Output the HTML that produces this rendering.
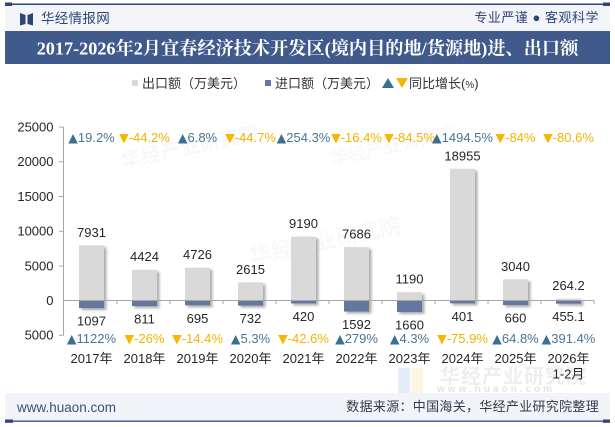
<!DOCTYPE html>
<html>
<head>
<meta charset="utf-8">
<style>
  html,body{margin:0;padding:0;background:#fff;}
  body{width:615px;height:427px;overflow:hidden;position:relative;}
  svg{display:block;}
  .t{font-family:"Liberation Sans","Noto Sans CJK SC",sans-serif;}
  .s{font-family:"Liberation Serif","Noto Serif CJK SC",serif;}
  .g tspan{font-family:"DejaVu Sans",sans-serif;font-size:12.5px;}
</style>
</head>
<body>
<svg width="615" height="427" viewBox="0 0 615 427" xmlns="http://www.w3.org/2000/svg">
  <defs>
    <filter id="sh" x="-30%" y="-30%" width="160%" height="160%">
      <feGaussianBlur stdDeviation="1.3"/>
    </filter>
  </defs>

  <!-- header -->
  <rect x="5" y="5" width="605" height="26" fill="#f3f5f9"/>
  <rect x="5" y="3.5" width="605" height="1.5" fill="#2e4677"/>
  <rect x="5" y="2.5" width="7" height="3.5" fill="#2e4677"/>
  <rect x="603" y="2.5" width="7" height="3.5" fill="#2e4677"/>
  <polygon points="20,13 25.5,15 25.5,24 20,25.5" fill="#2c4677"/>
  <polygon points="27.5,15 33,13 33,25.5 27.5,24" fill="#2c4677"/>
  <text x="41" y="23" class="t" font-size="13.5" fill="#2c4677" letter-spacing="0.3">华经情报网</text>
  <text x="599" y="22" class="t" font-size="13" fill="#2c4677" text-anchor="end" letter-spacing="0.5">专业严谨 ● 客观科学</text>

  <!-- title band -->
  <rect x="5" y="31" width="605" height="33" fill="#415a8c"/>
  <text x="307.5" y="54.3" class="s" font-size="18.2" font-weight="bold" fill="#ffffff" text-anchor="middle">2017-2026年2月宜春经济技术开发区(境内目的地/货源地)进、出口额</text>

  <!-- legend -->
  <rect x="132" y="80" width="6" height="6" fill="#d9d9d9"/>
  <text x="142" y="88" class="t" font-size="13" fill="#333">出口额（万美元）</text>
  <rect x="265" y="80" width="6" height="6" fill="#64789f"/>
  <text x="275" y="88" class="t" font-size="13" fill="#333">进口额（万美元）</text>
  <polygon points="382,88 388,78 394,88" fill="#3d6f91"/>
  <polygon points="396,78 408,78 402,88" fill="#f5b800"/>
  <text x="409" y="88" class="t" font-size="13" fill="#333">同比增长(<tspan font-size="10">%</tspan>)</text>

  <!-- watermarks -->
  <g opacity="0.35">
    <text x="120" y="160" class="t" font-size="20" font-weight="bold" fill="#e8edf3" transform="rotate(-12 160 150)">华经产业研究院</text>
    <text x="250" y="250" class="t" font-size="22" font-weight="bold" fill="#eceff3" transform="rotate(-12 320 250)">华经产业研究院</text>
    <text x="330" y="155" class="t" font-size="18" font-weight="bold" fill="#eceff3" transform="rotate(-12 380 150)">华经产业研究院</text>
  </g>
  <rect x="398" y="368" width="12" height="26" fill="#e6edf8"/>
  <rect x="411" y="368" width="12" height="26" fill="#fcf6e3"/>
  <text x="440" y="383" class="t" font-size="20" font-weight="bold" fill="#eeeeee" letter-spacing="1">华经产业研究院</text>
  <text x="437" y="392" class="t" font-size="10" font-weight="bold" fill="#e4e4e4" letter-spacing="3">www.huaon.com</text>

  <!-- y axis -->
  <g stroke="#a6a6a6" stroke-width="1">
    <line x1="63.5" y1="127" x2="63.5" y2="335.5"/>
    <line x1="59" y1="127" x2="63.5" y2="127"/>
    <line x1="59" y1="161.75" x2="63.5" y2="161.75"/>
    <line x1="59" y1="196.5" x2="63.5" y2="196.5"/>
    <line x1="59" y1="231.25" x2="63.5" y2="231.25"/>
    <line x1="59" y1="266" x2="63.5" y2="266"/>
    <line x1="59" y1="335.25" x2="63.5" y2="335.25"/>
  </g>
  <g class="t" font-size="13" fill="#262626" text-anchor="end">
    <text x="53.5" y="131.5">25000</text>
    <text x="53.5" y="166.2">20000</text>
    <text x="53.5" y="201">15000</text>
    <text x="53.5" y="235.7">10000</text>
    <text x="53.5" y="270.5">5000</text>
    <text x="53.5" y="305">0</text>
    <text x="53.5" y="339.7">5000</text>
  </g>

  <!-- bars -->
  <g id="bars">
    <g fill="#9a9a9a" filter="url(#sh)" opacity="0.8">
      <rect x="81.5" y="247.4" width="25" height="55.1"/>
      <rect x="134.5" y="271.75" width="25" height="30.75"/>
      <rect x="187.5" y="269.65" width="25" height="32.85"/>
      <rect x="240.5" y="284.33" width="25" height="18.17"/>
      <rect x="293.5" y="238.63" width="25" height="63.87"/>
      <rect x="346.5" y="249.08" width="25" height="53.42"/>
      <rect x="399.5" y="294.23" width="25" height="8.27"/>
      <rect x="452.5" y="170.76" width="25" height="131.74"/>
      <rect x="505.5" y="281.37" width="25" height="21.13"/>
      <rect x="558.5" y="300.66" width="25" height="1.84"/>

      <rect x="81.5" y="302.5" width="25" height="7.62"/>
      <rect x="134.5" y="302.5" width="25" height="5.64"/>
      <rect x="187.5" y="302.5" width="25" height="4.83"/>
      <rect x="240.5" y="302.5" width="25" height="5.09"/>
      <rect x="293.5" y="302.5" width="25" height="2.92"/>
      <rect x="346.5" y="302.5" width="25" height="11.06"/>
      <rect x="399.5" y="302.5" width="25" height="11.54"/>
      <rect x="452.5" y="302.5" width="25" height="2.79"/>
      <rect x="505.5" y="302.5" width="25" height="4.59"/>
      <rect x="558.5" y="302.5" width="25" height="3.16"/>
    </g>
    <g fill="#d9d9d9">
      <rect x="79" y="245.4" width="25" height="55.1"/>
      <rect x="132" y="269.75" width="25" height="30.75"/>
      <rect x="185" y="267.65" width="25" height="32.85"/>
      <rect x="238" y="282.33" width="25" height="18.17"/>
      <rect x="291" y="236.63" width="25" height="63.87"/>
      <rect x="344" y="247.08" width="25" height="53.42"/>
      <rect x="397" y="292.23" width="25" height="8.27"/>
      <rect x="450" y="168.76" width="25" height="131.74"/>
      <rect x="503" y="279.37" width="25" height="21.13"/>
      <rect x="556" y="298.66" width="25" height="1.84"/>
    </g>
    <g fill="#64789f">
      <rect x="79" y="300.5" width="25" height="7.62"/>
      <rect x="132" y="300.5" width="25" height="5.64"/>
      <rect x="185" y="300.5" width="25" height="4.83"/>
      <rect x="238" y="300.5" width="25" height="5.09"/>
      <rect x="291" y="300.5" width="25" height="2.92"/>
      <rect x="344" y="300.5" width="25" height="11.06"/>
      <rect x="397" y="300.5" width="25" height="11.54"/>
      <rect x="450" y="300.5" width="25" height="2.79"/>
      <rect x="503" y="300.5" width="25" height="4.59"/>
      <rect x="556" y="300.5" width="25" height="3.16"/>
    </g>
  </g>

  <!-- x axis -->
  <g stroke="#a6a6a6" stroke-width="1">
    <line x1="63.5" y1="300.5" x2="594" y2="300.5"/>
    <line x1="117" y1="300.5" x2="117" y2="304"/>
    <line x1="170" y1="300.5" x2="170" y2="304"/>
    <line x1="223" y1="300.5" x2="223" y2="304"/>
    <line x1="276" y1="300.5" x2="276" y2="304"/>
    <line x1="329" y1="300.5" x2="329" y2="304"/>
    <line x1="382" y1="300.5" x2="382" y2="304"/>
    <line x1="435" y1="300.5" x2="435" y2="304"/>
    <line x1="488" y1="300.5" x2="488" y2="304"/>
    <line x1="541" y1="300.5" x2="541" y2="304"/>
    <line x1="594" y1="300.5" x2="594" y2="304"/>
  </g>

  <!-- export labels -->
  <g class="t" font-size="13" fill="#262626" text-anchor="middle">
    <text x="91.5" y="236.9">7931</text>
    <text x="144.5" y="261.2">4424</text>
    <text x="197.5" y="259.1">4726</text>
    <text x="250.5" y="273.8">2615</text>
    <text x="303.5" y="228.1">9190</text>
    <text x="356.5" y="238.6">7686</text>
    <text x="409.5" y="283.7">1190</text>
    <text x="462.5" y="160.3">18955</text>
    <text x="515.5" y="270.9">3040</text>
    <text x="568.5" y="290.2">264.2</text>
  </g>
  <!-- import labels -->
  <g class="t" font-size="13" fill="#262626" text-anchor="middle">
    <text x="91.5" y="325.6">1097</text>
    <text x="144.5" y="323.6">811</text>
    <text x="197.5" y="322.8">695</text>
    <text x="250.5" y="323.1">732</text>
    <text x="303.5" y="320.9">420</text>
    <text x="356.5" y="329">1592</text>
    <text x="409.5" y="329.5">1660</text>
    <text x="462.5" y="320.8">401</text>
    <text x="515.5" y="322.6">660</text>
    <text x="568.5" y="321.2">455.1</text>
  </g>

  <!-- top growth -->
  <g class="t g" font-size="13" text-anchor="middle">
    <text x="91.5" y="142" fill="#4a7596"><tspan fill="#3d6f91">▲</tspan>19.2%</text>
    <text x="144.5" y="142" fill="#f2b400"><tspan fill="#f5b800">▼</tspan>-44.2%</text>
    <text x="197.5" y="142" fill="#4a7596"><tspan fill="#3d6f91">▲</tspan>6.8%</text>
    <text x="250.5" y="142" fill="#f2b400"><tspan fill="#f5b800">▼</tspan>-44.7%</text>
    <text x="303.5" y="142" fill="#4a7596"><tspan fill="#3d6f91">▲</tspan>254.3%</text>
    <text x="356.5" y="142" fill="#f2b400"><tspan fill="#f5b800">▼</tspan>-16.4%</text>
    <text x="409.5" y="142" fill="#f2b400"><tspan fill="#f5b800">▼</tspan>-84.5%</text>
    <text x="462.5" y="142" fill="#4a7596"><tspan fill="#3d6f91">▲</tspan>1494.5%</text>
    <text x="515.5" y="142" fill="#f2b400"><tspan fill="#f5b800">▼</tspan>-84%</text>
    <text x="568.5" y="142" fill="#f2b400"><tspan fill="#f5b800">▼</tspan>-80.6%</text>
  </g>
  <!-- bottom growth -->
  <g class="t g" font-size="13" text-anchor="middle">
    <text x="91.5" y="343" fill="#4a7596"><tspan fill="#3d6f91">▲</tspan>1122%</text>
    <text x="144.5" y="343" fill="#f2b400"><tspan fill="#f5b800">▼</tspan>-26%</text>
    <text x="197.5" y="343" fill="#f2b400"><tspan fill="#f5b800">▼</tspan>-14.4%</text>
    <text x="250.5" y="343" fill="#4a7596"><tspan fill="#3d6f91">▲</tspan>5.3%</text>
    <text x="303.5" y="343" fill="#f2b400"><tspan fill="#f5b800">▼</tspan>-42.6%</text>
    <text x="356.5" y="343" fill="#4a7596"><tspan fill="#3d6f91">▲</tspan>279%</text>
    <text x="409.5" y="343" fill="#4a7596"><tspan fill="#3d6f91">▲</tspan>4.3%</text>
    <text x="462.5" y="343" fill="#f2b400"><tspan fill="#f5b800">▼</tspan>-75.9%</text>
    <text x="515.5" y="343" fill="#4a7596"><tspan fill="#3d6f91">▲</tspan>64.8%</text>
    <text x="568.5" y="343" fill="#4a7596"><tspan fill="#3d6f91">▲</tspan>391.4%</text>
  </g>

  <!-- x labels -->
  <g class="t" font-size="13" fill="#262626" text-anchor="middle">
    <text x="91.5" y="363">2017年</text>
    <text x="144.5" y="363">2018年</text>
    <text x="197.5" y="363">2019年</text>
    <text x="250.5" y="363">2020年</text>
    <text x="303.5" y="363">2021年</text>
    <text x="356.5" y="363">2022年</text>
    <text x="409.5" y="363">2023年</text>
    <text x="462.5" y="363">2024年</text>
    <text x="515.5" y="363">2025年</text>
    <text x="568.5" y="363">2026年</text>
    <text x="568.5" y="378.5">1-2月</text>
  </g>

  <!-- footer -->
  <rect x="5" y="393" width="605" height="27" fill="#f2f4f9"/>
  <rect x="5" y="420.5" width="605" height="1.3" fill="#2e4677"/>
  <rect x="5" y="419.5" width="8" height="3.3" fill="#2e4677"/>
  <rect x="603" y="419.5" width="7" height="3.3" fill="#2e4677"/>
  <text x="17" y="412" class="t" font-size="13.5" fill="#3d4f7a">www.huaon.com</text>
  <text x="599" y="411" class="t" font-size="13" fill="#333a4a" text-anchor="end" letter-spacing="0.3">数据来源：中国海关，华经产业研究院整理</text>
</svg>
</body>
</html>
